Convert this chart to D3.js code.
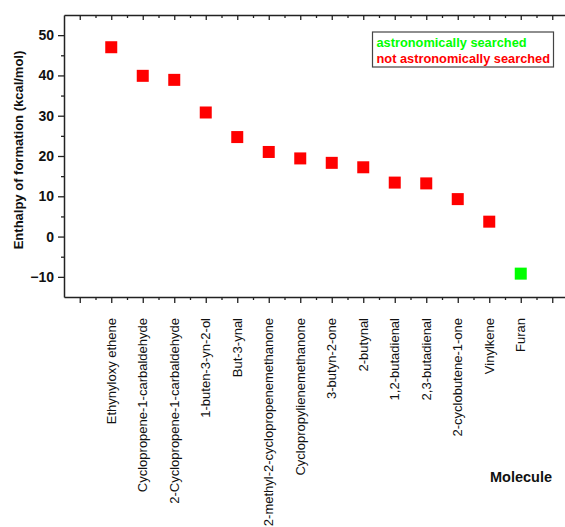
<!DOCTYPE html>
<html>
<head>
<meta charset="utf-8">
<script src="https://cdn.jsdelivr.net/npm/d3@7"></script>
<style>
  body { margin: 0; background: #fff; }
  svg { display: block; font-family: Arial, "Liberation Sans", sans-serif; }
</style>
</head>
<body>
<div id="chart"></div>
<script>
// Molecules along the x axis, in plotted order
const molecules = [
  "Ethynyloxy ethene",
  "Cyclopropene-1-carbaldehyde",
  "2-Cyclopropene-1-carbaldehyde",
  "1-buten-3-yn-2-ol",
  "But-3-ynal",
  "2-methyl-2-cyclopropenemethanone",
  "Cyclopropylienemethanone",
  "3-butyn-2-one",
  "2-butynal",
  "1,2-butadienal",
  "2,3-butadienal",
  "2-cyclobutene-1-one",
  "Vinylkene",
  "Furan"
];
// Enthalpy of formation (kcal/mol)
const enthalpy = [47.0, 39.9, 38.9, 30.8, 24.7, 21.0, 19.4, 18.3, 17.2, 13.4, 13.2, 9.3, 3.7, -9.2];
// true = astronomically searched
const searched = [false, false, false, false, false, false, false, false, false, false, false, false, false, true];

const yTicks = [-10, 0, 10, 20, 30, 40, 50];
const yMinor = [-5, 5, 15, 25, 35, 45];

const legendItems = [
  { label: "astronomically searched", color: "#00ff00" },
  { label: "not astronomically searched", color: "#ff0000" }
];

const W = 565, H = 527;
const plot = { left: 64, right: 568, top: 15, bottom: 297 };

const svg = d3.select("#chart").append("svg")
  .attr("width", W)
  .attr("height", H);

const x = d3.scaleLinear().domain([-0.5, 15.5]).range([plot.left, plot.right]);
const y = d3.scaleLinear().domain([-15, 55]).range([plot.bottom, plot.top]);

const majorX = d3.range(0, 16);
const minorX = d3.range(0.5, 15.5, 1);
const axisColor = "#222";

function styleAxis(g) {
  g.select(".domain").attr("stroke", axisColor).attr("stroke-width", 1.5);
  g.selectAll(".tick line").attr("stroke", axisColor).attr("stroke-width", 1.3);
}

// bottom axis: major ticks + minor ticks, no numbers
svg.append("g")
  .attr("transform", `translate(0,${plot.bottom})`)
  .call(d3.axisBottom(x).tickValues(majorX).tickSize(6).tickSizeOuter(0).tickFormat(""))
  .call(styleAxis);
svg.append("g")
  .attr("transform", `translate(0,${plot.bottom})`)
  .call(d3.axisBottom(x).tickValues(minorX).tickSize(3).tickFormat(""))
  .call(g => g.select(".domain").remove())
  .call(styleAxis);

// top axis, ticks point inward
svg.append("g")
  .attr("transform", `translate(0,${plot.top})`)
  .call(d3.axisTop(x).tickValues(majorX).tickSize(-5).tickSizeOuter(0).tickFormat(""))
  .call(styleAxis);
svg.append("g")
  .attr("transform", `translate(0,${plot.top})`)
  .call(d3.axisTop(x).tickValues(minorX).tickSize(-3).tickFormat(""))
  .call(g => g.select(".domain").remove())
  .call(styleAxis);

// left axis
const yAxis = svg.append("g")
  .attr("transform", `translate(${plot.left},0)`)
  .call(d3.axisLeft(y).tickValues(yTicks).tickSize(6).tickSizeOuter(0).tickPadding(4))
  .call(styleAxis);
yAxis.selectAll("text")
  .attr("font-size", 14)
  .attr("font-weight", "bold")
  .attr("fill", "#111");
svg.append("g")
  .attr("transform", `translate(${plot.left},0)`)
  .call(d3.axisLeft(y).tickValues(yMinor).tickSize(3).tickFormat(""))
  .call(g => g.select(".domain").remove())
  .call(styleAxis);

// category labels, rotated
svg.append("g")
  .selectAll("text")
  .data(molecules)
  .join("text")
  .attr("transform", (d, i) => `translate(${x(i + 1) + 4.5},318) rotate(-90)`)
  .attr("text-anchor", "end")
  .attr("font-size", 13)
  .attr("fill", "#111")
  .text(d => d);

// points
svg.append("g")
  .selectAll("rect")
  .data(enthalpy)
  .join("rect")
  .attr("x", (d, i) => x(i + 1) - 6)
  .attr("y", d => y(d) - 6)
  .attr("width", 12)
  .attr("height", 12)
  .attr("fill", (d, i) => searched[i] ? "#00ff00" : "#ff0000");

// axis titles
svg.append("text")
  .attr("transform", "translate(22.5,150) rotate(-90)")
  .attr("text-anchor", "middle")
  .attr("font-size", 13)
  .attr("font-weight", "bold")
  .attr("fill", "#111")
  .text("Enthalpy of formation (kcal/mol)");

svg.append("text")
  .attr("x", 552)
  .attr("y", 482)
  .attr("text-anchor", "end")
  .attr("font-size", 14.5)
  .attr("font-weight", "bold")
  .attr("fill", "#111")
  .text("Molecule");

// legend
const legend = svg.append("g").attr("transform", "translate(372.5,32)");
legend.append("rect")
  .attr("width", 181)
  .attr("height", 35)
  .attr("fill", "#fff")
  .attr("stroke", "#444")
  .attr("stroke-width", 1.2);
legend.selectAll("text")
  .data(legendItems)
  .join("text")
  .attr("x", 4)
  .attr("y", (d, i) => 14.5 + i * 16.5)
  .attr("font-size", 12.8)
  .attr("font-weight", "bold")
  .attr("fill", d => d.color)
  .text(d => d.label);
</script>
</body>
</html>
